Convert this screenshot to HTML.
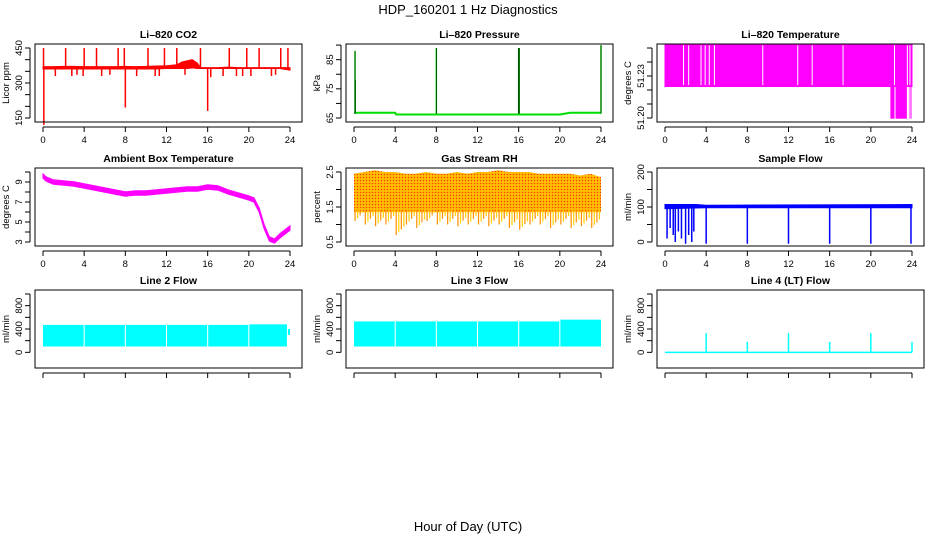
<!DOCTYPE html>
<html><head><meta charset="utf-8"><style>
html,body{margin:0;padding:0;background:#fff;}
svg{display:block;font-family:"Liberation Sans",sans-serif;}
</style></head><body>
<svg id="chart" width="936" height="540" viewBox="0 0 936 540" xmlns="http://www.w3.org/2000/svg">
<defs>
<pattern id="rhpat" width="3" height="3" patternUnits="userSpaceOnUse"><rect width="3" height="3" fill="#ffb000"/><rect width="1" height="1" fill="#ff3000"/><rect x="1.5" y="1.5" width="1" height="1" fill="#ffe000"/></pattern>
</defs>
<text x="468" y="14" text-anchor="middle" font-size="13">HDP_160201 1 Hz Diagnostics</text>
<text x="468" y="531" text-anchor="middle" font-size="13">Hour of Day (UTC)</text>
</svg>
<script>
// ---- data arrays ----
var xTicks = [0,4,8,12,16,20,24];
var co2Times = [0,1,2,3,4,5,6,7,8,9,10,11,12,13,13.5,14,14.5,15,15.3,16,17,18,19,20,21,22,23,24];
var co2Low  = [360,360,360,360,360,360,360,360,360,360,360,360,362,362,362,362,365,362,362,362,362,362,362,362,362,362,362,355];
var co2High = [370,370,371,371,370,370,370,370,371,370,371,373,374,378,390,395,400,385,366,366,366,368,366,366,366,366,366,366];
var co2SpikeT = [0.05,2.2,4,5.2,7.3,7.9,10.2,11.8,13,15.3,18.1,19.8,21,23.1,23.8];
var co2SpikeV = [450,450,450,450,450,450,450,450,450,450,450,450,450,450,450];
var co2DipT = [0.08,8,16,1.2,2.8,3.3,3.9,5.7,6.5,9.1,10.9,11.3,13.8,16.3,17.5,18.8,19.4,20.2,22.2,22.6];
var co2DipV = [120,195,180,330,330,335,330,330,335,330,330,330,335,325,330,330,330,330,330,335];
var presTimes = [0,4,4.1,8,12,16,20,21,24];
var presVals  = [66.8,66.8,66.2,66.2,66.2,66.2,66.2,66.8,66.8];
var presSpikeT = [0.1,0.12,8,16,16.05,24];
var presSpikeV = [88,78,89,89,89,90];
var tempGapT = [1.8,2.3,3.5,3.9,4.3,4.8,9.5,12.9,14.3,17.3,22.3,23.55,23.8];
var tempLowT = [21.9,22.3,22.4,23.5,23.7,23.75,23.85,23.95];
var ambT = [0,0.3,1,2,3,4,5,6,7,8,9,10,11,12,13,14,15,16,17,18,19,20,20.5,21,21.5,22,22.5,23,23.5,24];
var ambV = [9.6,9.3,9,8.9,8.8,8.6,8.4,8.2,8,7.8,7.9,7.9,8,8.1,8.2,8.3,8.3,8.5,8.4,8,7.7,7.4,7.2,6.2,4.5,3.3,3.1,3.6,4,4.4];
var rhT = [0,1,2,3,4,5,6,7,8,9,10,11,12,13,14,15,16,17,18,19,20,21,22,23,24];
var rhHigh = [2.45,2.5,2.55,2.5,2.5,2.45,2.45,2.5,2.45,2.45,2.5,2.45,2.5,2.5,2.55,2.5,2.5,2.5,2.45,2.45,2.45,2.45,2.4,2.45,2.35];
var rhLow = [1.1,1.0,0.95,1.0,0.7,1.0,0.9,1.1,1.0,1.0,0.95,1.0,1.0,0.95,1.0,0.9,0.85,1.0,1.0,0.9,1.0,0.9,0.95,0.9,1.2];
var sfT = [0,3,4,24];
var sfLow = [95,97,98,98];
var sfHigh = [107,107,105,107];
var sfDipT = [0.2,0.5,0.8,1.0,1.3,1.6,2.0,2.3,2.6,2.8,4,8,12,16,20,23.9];
var sfDipV = [10,40,20,0,30,10,-5,20,0,30,-5,-5,-5,-5,-5,-5];
var l2Segs = [[0,3.95,100,470],[4.05,7.95,100,470],[8.05,11.95,100,470],[12.05,15.95,100,470],[16.05,19.95,100,470],[20.05,23.7,100,480],[23.8,24,300,400]];
var l3Segs = [[0,3.95,100,530],[4.05,7.95,100,530],[8.05,11.95,100,530],[12.05,15.95,100,530],[16.05,19.95,100,530],[20.05,24,100,560]];
var l4SpikeT = [4,8,12,16,20,24];
var l4SpikeV = [330,180,330,180,330,180];

var svg = document.getElementById('chart');
var NS = 'http://www.w3.org/2000/svg';
function mk(tag, attrs, parent){var e=document.createElementNS(NS,tag);for(var k in attrs)e.setAttribute(k,attrs[k]);(parent||svg).appendChild(e);return e;}

var colX = [35,346,657], rowY = [44,168,290], W = 267, H = 78;
function panel(c, r, title, ylab, ymin, ymax, ticks, labels, slug){
  var L = colX[c], T = rowY[r];
  var g = mk('g', {});
  
  
  var p = {g:g, L:L, T:T,
    x:function(h){return L + 8 + h/24*(W-20);},
    y:function(v){return T + H - 4 - (v-ymin)/(ymax-ymin)*(H-8);}};
  var t = mk('text', {x:L+W/2, y:T-6, 'text-anchor':'middle', 'font-size':10.5, 'font-weight':'bold'}, g);
  t.textContent = title;
  
  
  var yl = mk('text', {transform:'translate('+(L-26)+','+(T+H/2)+') rotate(-90)', 'text-anchor':'middle', 'font-size':9.5}, g);
  yl.textContent = ylab;
  
  
  var ya = mk('g', {}, g);
  
  
  mk('line', {x1:L-5, x2:L-5, y1:p.y(ticks[0]), y2:p.y(ticks[ticks.length-1]), stroke:'#000'}, ya);
  ticks.forEach(function(v){
    var yy = p.y(v);
    mk('line', {x1:L-10, x2:L-5, y1:yy, y2:yy, stroke:'#000'}, ya);
  });
  labels.forEach(function(v){
    var tl = mk('text', {transform:'translate('+(L-13)+','+p.y(v)+') rotate(-90)', 'text-anchor':'middle', 'font-size':9.5}, ya);
    tl.textContent = v;
  });
  var xa = mk('g', {}, g);
  
  
  mk('line', {x1:p.x(0), x2:p.x(24), y1:T+H+5, y2:T+H+5, stroke:'#000'}, xa);
  xTicks.forEach(function(h){
    mk('line', {x1:p.x(h), x2:p.x(h), y1:T+H+5, y2:T+H+10, stroke:'#000'}, xa);
    if (r < 2) { var tx = mk('text', {x:p.x(h), y:T+H+21, 'text-anchor':'middle', 'font-size':9.5}, xa); tx.textContent = h; }
  });
  p.data = mk('g', {}, g);
  
  
  p.box = function(){
    var b = mk('rect', {x:L, y:T, width:W, height:H, fill:'none', stroke:'#000'}, g);
    
    
  };
  return p;
}
function band(p, ts, lo, hi, fill, sw){
  var pts = [];
  for (var i=0;i<ts.length;i++) pts.push(p.x(ts[i])+','+p.y(hi[i]));
  for (var i=ts.length-1;i>=0;i--) pts.push(p.x(ts[i])+','+p.y(lo[i]));
  mk('polygon', {points:pts.join(' '), fill:fill, stroke:fill, 'stroke-width':(sw===undefined?1:sw)}, p.data);
}
function vline(p, h, v0, v1, col, w){
  mk('line', {x1:p.x(h), x2:p.x(h), y1:p.y(v0), y2:p.y(v1), stroke:col, 'stroke-width':w||1.5}, p.data);
}

// CO2
var p1 = panel(0,0,'Li\u2013820 CO2','Licor ppm',150,450,[150,200,250,300,350,400,450],[150,300,450],'co2');
band(p1, co2Times, co2Low, co2High, '#ff0000');
co2SpikeT.forEach(function(h,i){ vline(p1,h,365,co2SpikeV[i],'#ff0000'); });
co2DipT.forEach(function(h,i){ vline(p1,h,360,co2DipV[i],'#ff0000'); });
p1.box();

// Pressure
var p2 = panel(1,0,'Li\u2013820 Pressure','kPa',65,89,[65,70,75,80,85,90],[65,75,85],'pressure');
var pp = presTimes.map(function(h,i){return p2.x(h)+','+p2.y(presVals[i]);}).join(' ');
mk('polyline', {points:pp, fill:'none', stroke:'#00dd00', 'stroke-width':2}, p2.data);
presSpikeT.forEach(function(h,i){ vline(p2,h,66.5,presSpikeV[i],'#00dd00',1.5); });
presSpikeT.forEach(function(h,i){ vline(p2,h,66.5,presSpikeV[i],'#000',0.6); });
p2.box();

// Li-820 Temperature
var p3 = panel(2,0,'Li\u2013820 Temperature','degrees C',51.20,51.25,[51.20,51.21,51.22,51.23,51.24,51.25],['51.20','51.23'],'temperature');
band(p3, [0,24], [51.2225,51.2225], [51.2525,51.2525], '#ff00ff');
tempLowT.forEach(function(h,i){ if (i%2===0) mk('rect',{x:p3.x(h),y:p3.y(51.2225),width:p3.x(tempLowT[i+1])-p3.x(h),height:p3.y(51.1995)-p3.y(51.2225),fill:'#ff00ff'},p3.data); });
tempGapT.forEach(function(h){ vline(p3,h,51.2235,51.252,'#ffffff',1); });
p3.box();

// Ambient
var p4 = panel(0,1,'Ambient Box Temperature','degrees C',3,10,[3,4,5,6,7,8,9,10],[3,5,7,9],'ambient');
band(p4, ambT, ambV.map(function(v){return v-0.22;}), ambV.map(function(v){return v+0.22;}), '#ff00ff');
p4.box();

// RH
var p5 = panel(1,1,'Gas Stream RH','percent',0.5,2.5,[0.5,1,1.5,2,2.5],['0.5','1.5','2.5'],'rh');
band(p5, rhT, rhT.map(function(){return 1.35;}), rhHigh, 'url(#rhpat)', 0);
rhT.forEach(function(h,i){ if(i<rhT.length-1){ for(var k=0;k<4;k++){ vline(p5,h+k*0.25+0.1,1.4,rhLow[i]+k*0.08,(k%2?'#ffd000':'#ff9000'),1.2);} } });
p5.box();

// Sample flow
var p6 = panel(2,1,'Sample Flow','ml/min',0,200,[0,50,100,150,200],[0,100,200],'sample-flow');
band(p6, sfT, sfLow, sfHigh, '#0000ff');
sfDipT.forEach(function(h,i){ vline(p6,h,100,sfDipV[i],'#0000ff',1.5); });
p6.box();

// Line flows
function flowPanel(c, title, slug, segs, spT, spV){
  var p = panel(c,2,title,'ml/min',-200,1000,[0,200,400,600,800,1000],[0,400,800],slug);
  segs.forEach(function(s){
    mk('rect',{x:p.x(s[0]),y:p.y(s[3]),width:p.x(s[1])-p.x(s[0]),height:p.y(s[2])-p.y(s[3]),fill:'#00ffff'},p.data);
  });
  if (spT) {
    mk('line',{x1:p.x(0),x2:p.x(24),y1:p.y(0),y2:p.y(0),stroke:'#00ffff','stroke-width':1.5},p.data);
    spT.forEach(function(h,i){ vline(p,h,0,spV[i],'#00ffff',1.5); });
  }
  p.box();
}
flowPanel(0,'Line 2 Flow','line2-flow',l2Segs);
flowPanel(1,'Line 3 Flow','line3-flow',l3Segs);
flowPanel(2,'Line 4 (LT) Flow','line4-flow',[],l4SpikeT,l4SpikeV);
</script>
</body></html>
